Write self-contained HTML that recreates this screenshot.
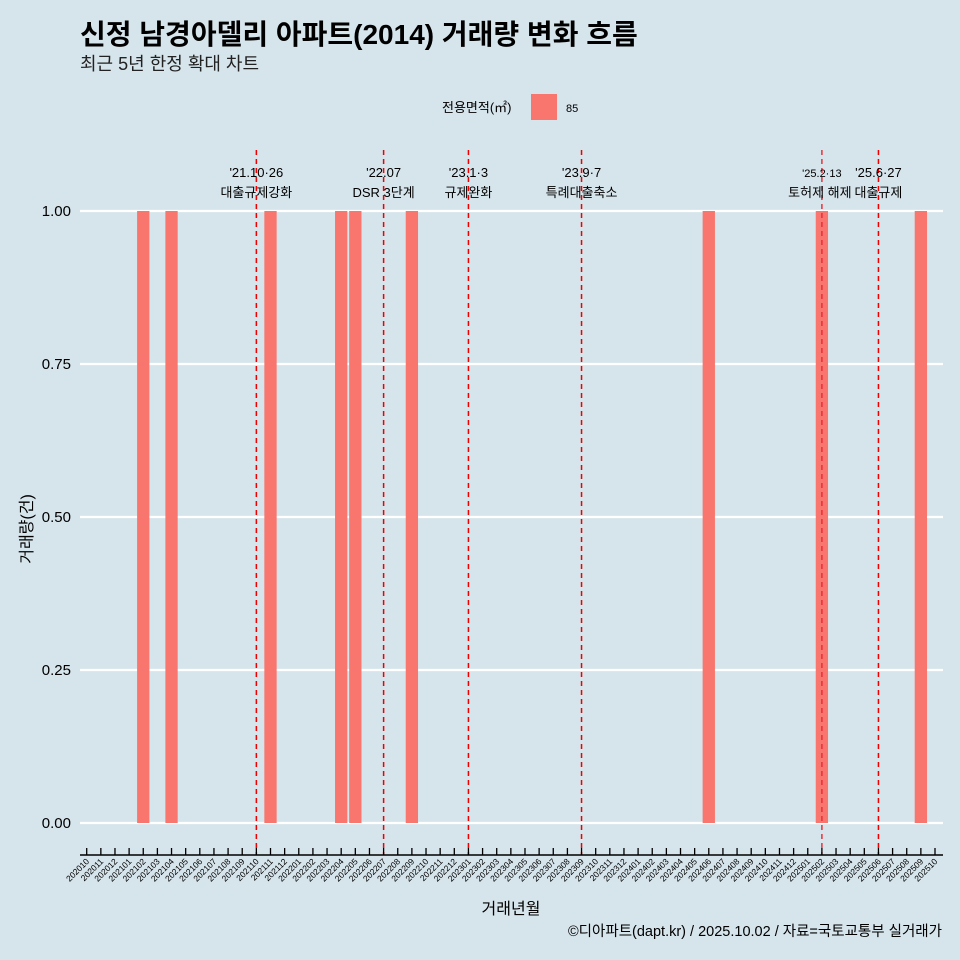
<!DOCTYPE html>
<html><head><meta charset="utf-8"><style>
body{margin:0;background:#d6e4eb;}
svg{display:block;font-family:"Liberation Sans","Noto Sans CJK KR",sans-serif;}
</style></head><body>
<svg id="c" width="960" height="960">
<rect width="960" height="960" fill="#d6e4eb"/>
<text x="80" y="44" font-size="28" font-weight="bold" fill="#000">신정 남경아델리 아파트(2014) 거래량 변화 흐름</text>
<text x="80" y="70" font-size="18" fill="#222">최근 5년 한정 확대 차트</text>
<g>
<text x="442" y="112" font-size="13">전용면적(㎡)</text>
<rect x="531" y="94" width="26" height="26" fill="#f8766d"/>
<text x="566" y="112" font-size="11">85</text>
</g>
<g id="grid"></g><g id="bars"></g><g id="vlines"></g><g id="axes"></g>
<text x="20" y="517" font-size="16" transform="rotate(-90 32 517)" text-anchor="middle">거래량(건)</text>
<text x="511" y="914" font-size="16" text-anchor="middle">거래년월</text>
<text x="942" y="936" font-size="14.5" text-anchor="end">©디아파트(dapt.kr) / 2025.10.02 / 자료=국토교통부 실거래가</text>
</svg>
<script>
const months=[];for(let y=2020,m=10;y*100+m<=202510;){months.push(''+y+(m<10?'0'+m:m));m++;if(m>12){m=1;y++;}}
const barMonths=['202102','202104','202111','202204','202205','202209','202406','202502','202509'];
const barValues=[1,1,1,1,1,1,1,1,1];
const yTicks=[0,0.25,0.5,0.75,1];
const yTickLabels=['0.00','0.25','0.50','0.75','1.00'];
const eventMonths=['202110','202207','202301','202309','202502','202506'];
const eventDates=["'21.10·26","'22.07","'23.1·3","'23.9·7","'25.2·13","'25.6·27"];
const eventLabels=['대출규제강화','DSR 3단계','규제완화','특례대출축소','토허제 해제','대출규제'];
const NS='http://www.w3.org/2000/svg';
const X=i=>86.7+i*(935-86.7)/60;
const xm=m=>X(months.indexOf(m));
const Y=v=>823-v*612;
function mk(p,t,a){const e=document.createElementNS(NS,t);for(const k in a)e.setAttribute(k,a[k]);p.appendChild(e);return e;}
const grid=document.getElementById('grid'),bars=document.getElementById('bars'),vl=document.getElementById('vlines'),ax=document.getElementById('axes');
yTicks.forEach((v,i)=>{
 const l=mk(grid,'line',{x1:80,x2:943,y1:Y(v),y2:Y(v),stroke:'#fff','stroke-width':2.2});
 
 
 const t=mk(ax,'text',{x:71,y:Y(v)+5,'font-size':15,'text-anchor':'end'});t.textContent=yTickLabels[i];
 
 
});
const bw=12.3;
barMonths.forEach((m,i)=>{
 const r=mk(bars,'rect',{x:xm(m)-bw/2,y:Y(barValues[i]),width:bw,height:Y(0)-Y(barValues[i]),fill:'#f8766d'});
 
 
});
eventMonths.forEach((m,i)=>{
 const x=xm(m);
 const l=mk(vl,'line',{x1:x,x2:x,y1:150,y2:855,stroke:m==='202502'?'#e8303a':'#e00','stroke-width':1.5,'stroke-dasharray':'5,4'});
 
 
 const small=m==='202502';
 const t1=mk(vl,'text',{x:x,y:177,'font-size':small?11:13,'text-anchor':'middle'});t1.textContent=eventDates[i];
 
 
 const t2=mk(vl,'text',{x:small?x-2:x,y:197,'font-size':13,'text-anchor':'middle'});t2.textContent=eventLabels[i];
 
 
});
const base=mk(ax,'line',{x1:80,x2:943,y1:855,y2:855,stroke:'#000','stroke-width':1.5});


months.forEach((m,i)=>{
 const x=X(i);
 const tk=mk(ax,'line',{x1:x,x2:x,y1:848,y2:855,stroke:'#000','stroke-width':1.3});
 
 
 const t=mk(ax,'text',{x:x+3,y:862,'font-size':8.5,'text-anchor':'end',transform:`rotate(-45 ${x+3} 862)`});t.textContent=m;
 
 
});
</script>
</body></html>
